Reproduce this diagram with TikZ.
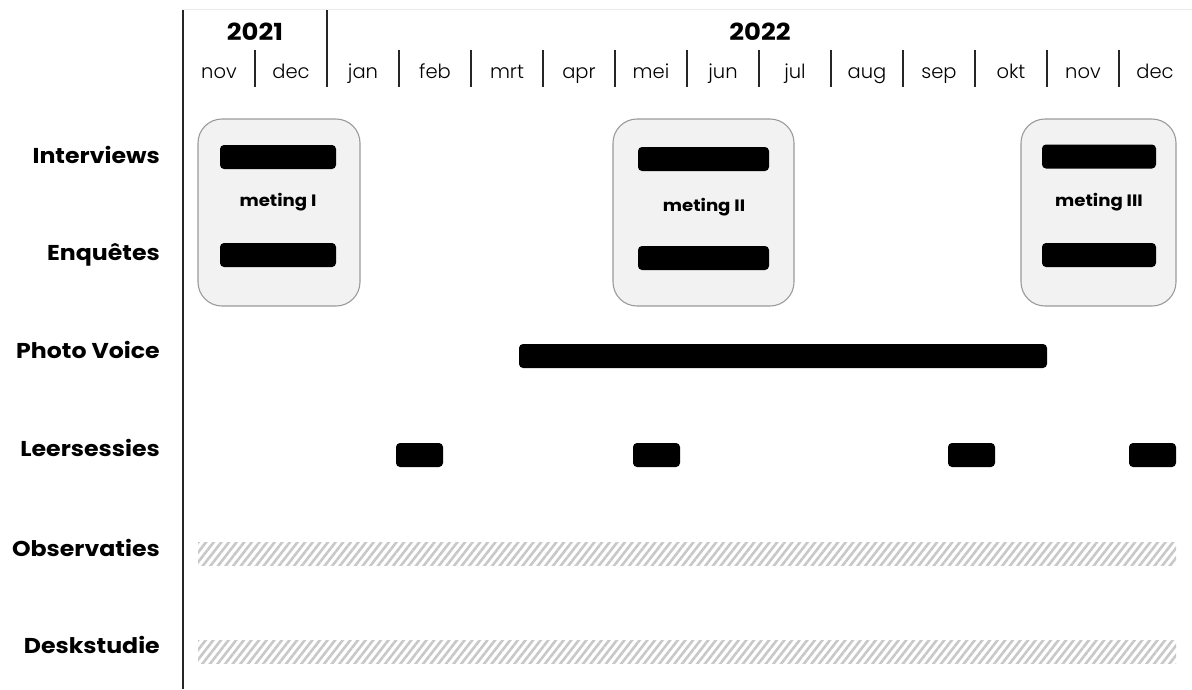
\documentclass[tikz,border=0pt]{standalone}
\usepackage{fontspec}
\setmainfont{Poppins}
\newfontfamily\boldfont{Poppins}[UprightFont={* Bold},FakeStretch=1.1]
\newfontfamily\lightfont{Poppins}[UprightFont={* Light}]
\usetikzlibrary{patterns.meta}
\definecolor{boxfill}{HTML}{F2F2F2}
\definecolor{boxline}{HTML}{9A9A9A}
\definecolor{hatch}{HTML}{C8C8C8}
\begin{document}
\begin{tikzpicture}[x=1pt,y=-1pt,
  rowlabel/.style={anchor=base east,inner sep=0pt,font=\boldfont\fontsize{21.5}{24}\selectfont},
  monthlabel/.style={anchor=base,inner sep=0pt,font=\lightfont\fontsize{19.5}{22}\selectfont},
  yearlabel/.style={anchor=base,inner sep=0pt,font=\boldfont\fontsize{23.5}{26}\selectfont},
  metingbox/.style={draw=boxline,fill=boxfill,line width=1.1pt,rounded corners=24pt,inner sep=0pt},
  metinglabel/.style={anchor=base,inner sep=0pt,font=\boldfont\fontsize{16.5}{18}\selectfont},
  bar/.style={fill=black,rounded corners=4pt,inner sep=0pt,minimum height=24pt},
  hatchbar/.style={inner sep=0pt,minimum height=23pt,pattern={Lines[angle=52,distance=6pt,line width=2.6pt]},pattern color=hatch},
  axis/.style={line width=1.6pt,black!85},
  sep/.style={line width=1.6pt,black!85}]
\useasboundingbox (0,0) rectangle (1192,689);
% frame lines
\coordinate (axtop) at (183,10);
\coordinate (axbot) at (183,689);
\coordinate (topL) at (183,9);
\coordinate (topR) at (1192,9);
\draw[black!8,line width=0.8pt] (topL) -- (topR);
\draw[axis] (axtop) -- (axbot);
\coordinate (ydivT) at (327,10);
\coordinate (ydivB) at (327,87);
\draw[sep] (ydivT) -- (ydivB);
% years
\node[yearlabel] (y2021) at (255,40) {2021};
\node[yearlabel] (y2022) at (760,40) {2022};
% months
\foreach \m [count=\i from 0] in {nov,dec,jan,feb,mrt,apr,mei,jun,jul,aug,sep,okt,nov,dec}{
  \node[monthlabel] (m\i) at ({219+72*\i},78) {\m};
}
\foreach \k in {1,3,4,5,6,7,8,9,10,11,12,13}{
  \coordinate (sT\k) at ({183+72*\k},50);
  \coordinate (sB\k) at ({183+72*\k},87);
  \draw[sep] (sT\k) -- (sB\k);
}
% row labels
\node[rowlabel] (lInt) at (160,163) {Interviews};
\node[rowlabel] (lEnq) at (160,260) {Enquêtes};
\node[rowlabel] (lPho) at (160,358) {Photo Voice};
\node[rowlabel] (lLee) at (160,456) {Leersessies};
\node[rowlabel] (lObs) at (160,556) {Observaties};
\node[rowlabel] (lDes) at (160,653) {Deskstudie};
% meting I
\node[metingbox,minimum width=162pt,minimum height=187pt] (b1) at (279,212.5) {};
\node[bar,minimum width=116pt] (b1i) at (278,157) {};
\node[bar,minimum width=116pt] (b1e) at (278,255) {};
\node[metinglabel] (t1) at (278,206) {meting I};
% meting II
\node[metingbox,minimum width=181pt,minimum height=187pt] (b2) at (703.5,212.5) {};
\node[bar,minimum width=131pt] (b2i) at (703.5,159) {};
\node[bar,minimum width=131pt] (b2e) at (703.5,258) {};
\node[metinglabel] (t2) at (704,211) {meting II};
% meting III
\node[metingbox,minimum width=155pt,minimum height=187pt] (b3) at (1098.5,212.5) {};
\node[bar,minimum width=114pt] (b3i) at (1099,156.5) {};
\node[bar,minimum width=114pt] (b3e) at (1099,255) {};
\node[metinglabel] (t3) at (1099,206) {meting III};
% photo voice
\node[bar,minimum width=528pt] (pv) at (783,356) {};
% leersessies
\node[bar,minimum width=47pt] (ls1) at (419.5,455) {};
\node[bar,minimum width=47pt] (ls2) at (656.5,455) {};
\node[bar,minimum width=47pt] (ls3) at (971.5,455) {};
\node[bar,minimum width=47pt] (ls4) at (1152.5,455) {};
% observaties / deskstudie
\node[hatchbar,minimum width=978pt] (obs) at (687,553.5) {};
\node[hatchbar,minimum width=978pt] (des) at (687,652) {};
\end{tikzpicture}
\end{document}
